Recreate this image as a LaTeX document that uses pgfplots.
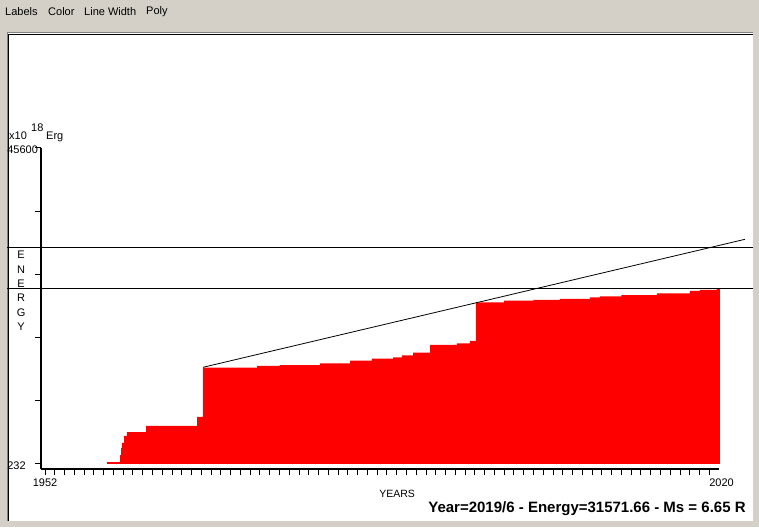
\documentclass[border=0pt]{standalone}
\usepackage{pgfplots}
\pgfplotsset{compat=1.18}
\usepackage{fontspec}
\setmainfont{Liberation Sans}
\definecolor{winbg}{RGB}{212,208,200}
\definecolor{winshadow}{RGB}{128,128,128}
\begin{document}
\begin{tikzpicture}[x=1pt,y=1pt]
\path[use as bounding box] (0,0) rectangle (759,527);
\fill[winbg] (0,0) rectangle (759,527);
\fill[white] (7,6) rectangle (753,494);
\draw[winshadow, line width=1pt] (7,6) -- (7,494) -- (753,494);
\draw[black, line width=0.8pt] (8,6) -- (8,493) -- (753,493);
% menu
\node[anchor=west, inner sep=0pt, font=\fontsize{11}{13}\selectfont] at (5,515) {Labels};
\node[anchor=west, inner sep=0pt, font=\fontsize{11}{13}\selectfont] at (48,515) {Color};
\node[anchor=west, inner sep=0pt, font=\fontsize{11}{13}\selectfont] at (84,515) {Line Width};
\node[anchor=west, inner sep=0pt, font=\fontsize{11}{13}\selectfont] at (146,515) {Poly};
\node[anchor=west, inner sep=0pt, font=\fontsize{11}{13}\selectfont] at (9,391) {x10};
\node[anchor=west, inner sep=0pt, font=\fontsize{11}{13}\selectfont] at (31,399) {18};
\node[anchor=west, inner sep=0pt, font=\fontsize{11}{13}\selectfont] at (46,390) {Erg};
\node[anchor=center, inner sep=0pt, font=\bfseries\fontsize{15}{18}\selectfont] at (587,18) {Year=2019/6 - Energy=31571.66 - Ms = 6.65 R};
\begin{axis}[
  at={(41.1pt,58pt)}, anchor=south west,
  scale only axis, width=678pt, height=321pt,
  xmin=1951.6, xmax=2021, ymin=-486, ymax=45600,
  axis x line=bottom, axis y line=left,
  axis line style={-, line width=2.5pt},
  clip=false,
  scaled y ticks=false, scaled x ticks=false,
  tick align=outside, major tick length=6pt,
  tick style={black, line width=1pt},
  xtick={1952,1953,...,2020}, xticklabel=\empty,
  extra x ticks={1952,2020},
  extra x tick labels={1952,\makebox[0pt][l]{2020}},
  extra x tick style={tick style={black, line width=1pt}},
  ytick={232,9305.6,18379.2,27452.8,36526.4,45600},
  yticklabels={232,,,,,45600},
  yticklabel style={anchor=west, inner sep=0pt, xshift=-28pt, yshift=-1.5pt},
  /pgf/number format/assume math mode=true,
  tick label style={font=\fontsize{11}{13}\selectfont},
  xlabel={YEARS},
  xlabel style={at={(axis description cs:0.525,-0.0779)}, anchor=center, font=\fontsize{10.5}{12}\selectfont, inner sep=0pt},
  ylabel={\parbox{10pt}{\centering\baselineskip=14.4pt E\\N\\E\\R\\G\\Y}},
  ylabel style={rotate=-90, at={(axis description cs:-0.0296,0.5545)}, anchor=center, font=\fontsize{11}{13}\selectfont, inner sep=0pt},
]
\addplot[fill=red, draw=none, const plot] coordinates {
(1958.35,232) (1958.35,519) (1959.68,1524) (1959.78,2529) (1959.88,3247)
(1960.09,4252) (1960.39,4826) (1962.34,5688) (1967.56,6980) (1968.17,14058)
(1973.70,14302) (1976.05,14445) (1980.15,14689) (1983.22,15063) (1985.47,15350)
(1987.62,15551) (1988.54,15838) (1989.67,16211) (1991.41,17317) (1994.17,17561)
(1995.50,17891) (1996.11,23447) (1999.00,23677) (2002.00,23800) (2004.71,23921)
(2007.78,24165) (2008.80,24300) (2011.00,24495) (2014.64,24739) (2018.02,25070)
(2019.04,25213) (2020.78,25457) (2021.09,232)
};
\addplot[black, line width=0.8pt] coordinates {(1948.11,31400) (2024.47,31400)};
\addplot[black, line width=0.8pt] coordinates {(1948.11,25457) (2024.47,25457)};
\addplot[black, line width=0.8pt] coordinates {(1968.17,14115) (2023.65,32492)};
\end{axis}
\end{tikzpicture}
\end{document}
